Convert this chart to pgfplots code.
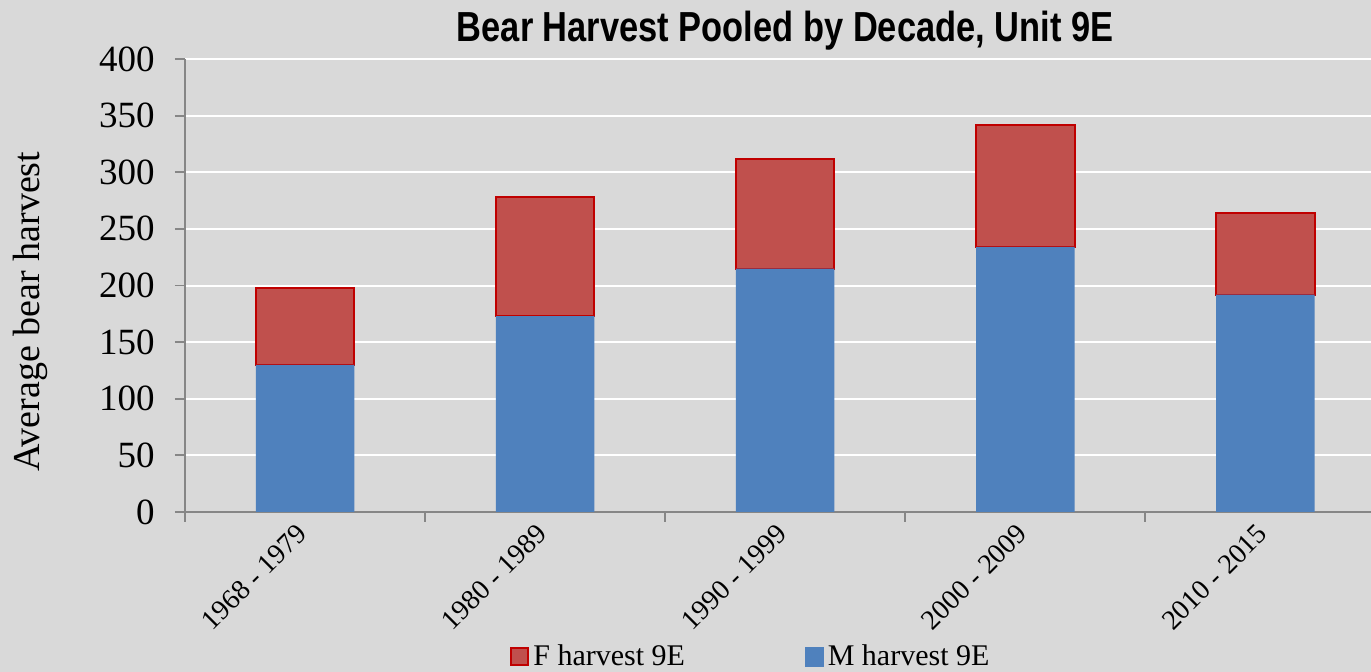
\documentclass[border=0pt]{standalone}
\usepackage{fontspec}
\setmainfont{Liberation Serif}
\newfontfamily\titlefont[FakeStretch=0.82]{Liberation Sans}
\usepackage{pgfplots}
\pgfplotsset{compat=1.18}
\definecolor{bg}{HTML}{D9D9D9}
\definecolor{mblue}{HTML}{4F81BD}
\definecolor{fred}{HTML}{C0504D}
\definecolor{fborder}{HTML}{C00000}
\definecolor{axgrey}{HTML}{868686}
\pgfplotstableread{
x M F
0 130 68
1 173 105
2 215 97
3 234 108
4 192 72
}\harvest
\begin{document}
\begin{tikzpicture}
\fill[bg] (0,0) rectangle (685.5pt,-336pt);
\begin{axis}[
  at={(92.5pt,-256pt)}, anchor=south west,
  scale only axis, width=593pt, height=226.5pt,
  xmin=-0.5, xmax=4.44, ymin=0, ymax=400,
  ybar stacked, bar width=0.41,
  xtick={0,1,2,3,4},
  xticklabels={1968 - 1979,1980 - 1989,1990 - 1999,2000 - 2009,2010 - 2015},
  major x tick style={draw=none},
  minor xtick={-0.5,0.5,1.5,2.5,3.5},
  ytick={0,50,...,400},
  ymajorgrids, grid style={white, line width=1pt},
  axis x line*=bottom, axis y line*=left,
  axis line style={draw=axgrey, line width=0.9pt},
  tick align=outside,
  major tick length=5pt, minor tick length=5pt,
  tick style={draw=axgrey, line width=0.9pt},
  minor x tick style={draw=axgrey, line width=0.9pt},
  /pgf/number format/assume math mode=true,
  yticklabel style={font=\fontsize{18.5}{20}\selectfont, inner sep=0pt, xshift=-10pt},
  xticklabel style={font=\fontsize{14}{15}\selectfont, rotate=45, anchor=east, inner sep=0pt, xshift=-3.5pt, yshift=-1.5pt},
  ylabel={Average bear harvest},
  ylabel style={font=\fontsize{19}{22}\selectfont, at={(axis description cs:-0.1307,0.442)}, anchor=center},
  title={Bear Harvest Pooled by Decade, Unit 9E},
  title style={font=\titlefont\bfseries\fontsize{21}{24}\selectfont, at={(axis description cs:0.506,1)}, anchor=base, yshift=2.7pt},
  legend style={draw=none, fill=none, font=\fontsize{15}{17}\selectfont,
    at={(axis description cs:0.478,-0.32)}, anchor=center, legend columns=2,
    /tikz/every even column/.append style={column sep=58pt}},
]
\addplot[fill=mblue, draw=none, forget plot] table[x=x, y=M] {\harvest};
\addplot[fill=fred, draw=fborder, line width=1pt, forget plot] table[x=x, y=F] {\harvest};
\addlegendimage{legend image code/.code={\draw[fill=fred, draw=fborder, line width=1pt] (-1.5pt,-4.2pt) rectangle (7pt,4.3pt);}}
\addlegendentry{F harvest 9E}
\addlegendimage{legend image code/.code={\fill[mblue] (-1.5pt,-4.7pt) rectangle (7.5pt,4.8pt);}}
\addlegendentry{M harvest 9E}
\end{axis}
\pgfresetboundingbox
\useasboundingbox (0,0) rectangle (685.5pt,-336pt);
\end{tikzpicture}
\end{document}
